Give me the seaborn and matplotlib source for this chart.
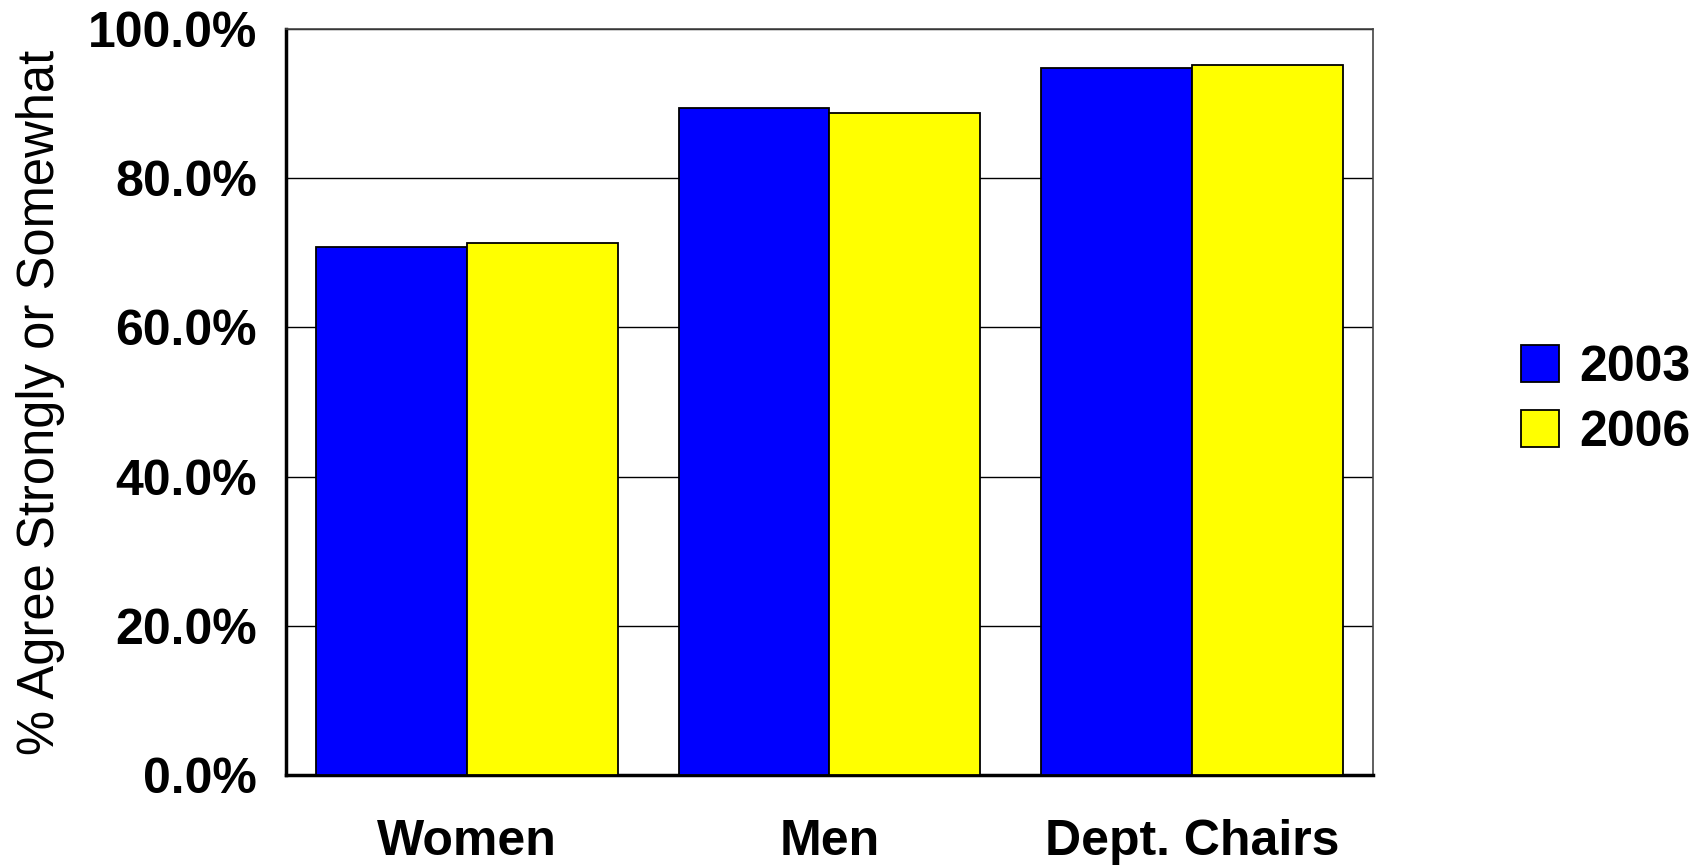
import matplotlib
matplotlib.use("Agg")
import matplotlib.pyplot as plt
from matplotlib.patches import Patch
from matplotlib.ticker import FuncFormatter, MultipleLocator
import seaborn as sns
import pandas as pd

# Survey results: share answering "agree strongly" or "agree somewhat"
groups = ["Women", "Men", "Dept. Chairs"]
years = ["2003", "2006"]
pct_2003 = [70.8, 89.4, 94.8]
pct_2006 = [71.3, 88.7, 95.2]
year_colors = {"2003": "#0000FF", "2006": "#FFFF00"}

df = pd.DataFrame({
    "group": groups * 2,
    "year": [years[0]] * len(groups) + [years[1]] * len(groups),
    "pct": pct_2003 + pct_2006,
})

sns.set_style("white")
plt.rcParams["font.family"] = ["Liberation Sans", "DejaVu Sans"]
plt.rcParams["text.color"] = "black"
plt.rcParams["axes.labelcolor"] = "black"
plt.rcParams["xtick.color"] = "black"
plt.rcParams["ytick.color"] = "black"

fig = plt.figure(figsize=(17.06, 8.66), dpi=100)
ax = fig.add_axes([0.1676, 0.1051, 0.8048 - 0.1676, 0.9665 - 0.1051])

sns.barplot(data=df, x="group", y="pct", hue="year", order=groups,
            hue_order=years, palette=year_colors, width=0.833, gap=0,
            edgecolor="black", linewidth=1.3, saturation=1,
            legend=False, ax=ax, zorder=3)

ax.set_xlim(-0.5, 2.5)
ax.set_ylim(0, 100)
ax.yaxis.set_major_locator(MultipleLocator(20))
ax.yaxis.set_major_formatter(FuncFormatter(lambda v, _: f"{v:.1f}%"))
ax.grid(axis="y", color="black", linewidth=1.0, zorder=0)
ax.set_axisbelow(True)

for side in ("top", "right"):
    ax.spines[side].set_color("#444444")
    ax.spines[side].set_linewidth(1.2)
for side in ("left", "bottom"):
    ax.spines[side].set_color("black")
    ax.spines[side].set_linewidth(2.5)

ax.tick_params(axis="y", length=0, pad=21, labelsize=36)
ax.tick_params(axis="x", length=0, pad=32, labelsize=36)
for lab in ax.get_yticklabels() + ax.get_xticklabels():
    lab.set_fontweight("bold")

ax.set_xlabel("")
ax.set_ylabel("% Agree Strongly or Somewhat", fontsize=36.5, labelpad=16)

handles = [Patch(facecolor=year_colors[y], edgecolor="black", linewidth=1.3)
           for y in years]
fig.legend(handles, years, loc="center left", bbox_to_anchor=(0.8916, 0.5375),
           frameon=False, borderpad=0, borderaxespad=0, handlelength=0.76,
           handleheight=0.76, handletextpad=0.4, labelspacing=0.38,
           prop={"size": 36, "weight": "bold"})

fig.savefig("out.png", dpi=100)
